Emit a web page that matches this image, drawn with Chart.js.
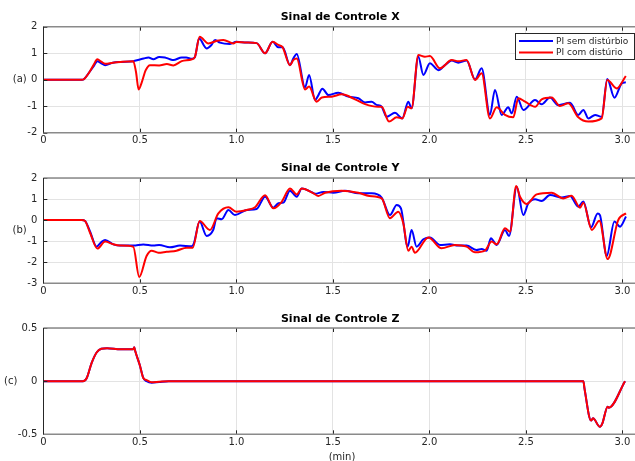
<!DOCTYPE html>
<html>
<head>
<meta charset="utf-8">
<script src="https://cdn.jsdelivr.net/npm/chart.js@4"></script>
<style>
  html, body { margin: 0; padding: 0; background: #fff; overflow: hidden; }
  #wrap { position: relative; width: 635px; height: 461px; overflow: hidden; }
  canvas { position: absolute; left: 0; }
</style>
</head>
<body>
<div id="wrap">
  <canvas id="cx" width="645" height="150" style="top:0px"></canvas>
  <canvas id="cy" width="645" height="150" style="top:150px"></canvas>
  <canvas id="cz" width="645" height="161" style="top:300px"></canvas>
</div>
<script>
// Series names and panel titles
const seriesNames = ['PI sem distúrbio', 'PI com distúrio'];
const panelTitles = ['Sinal de Controle X', 'Sinal de Controle Y', 'Sinal de Controle Z'];
const panelTags = ['(a)', '(b)', '(c)'];
const timeUnit = '(min)';

// Control signal X (time in min)
const tXSem = [0, 0.2, 0.21, 0.24, 0.26, 0.28, 0.3, 0.32, 0.36, 0.4, 0.466, 0.49, 0.52, 0.545, 0.57, 0.6, 0.63, 0.656, 0.674, 0.717, 0.74, 0.77, 0.785, 0.807, 0.846, 0.87, 0.89, 0.915, 0.967, 1.0, 1.054, 1.105, 1.149, 1.188, 1.218, 1.24, 1.278, 1.295, 1.313, 1.356, 1.377, 1.408, 1.421, 1.446, 1.477, 1.528, 1.58, 1.632, 1.667, 1.701, 1.727, 1.753, 1.779, 1.822, 1.86, 1.891, 1.908, 1.943, 1.969, 2.003, 2.047, 2.081, 2.116, 2.15, 2.193, 2.237, 2.271, 2.314, 2.34, 2.375, 2.409, 2.427, 2.453, 2.487, 2.548, 2.582, 2.625, 2.668, 2.729, 2.772, 2.798, 2.824, 2.859, 2.893, 2.922, 2.959, 2.997, 3.018];
const xSem  = [0, 0, 0.02, 0.3, 0.5, 0.7, 0.62, 0.55, 0.64, 0.67, 0.7, 0.74, 0.8, 0.84, 0.77, 0.86, 0.84, 0.77, 0.74, 0.84, 0.84, 0.79, 0.85, 1.55, 1.18, 1.3, 1.5, 1.4, 1.35, 1.43, 1.4, 1.38, 1.0, 1.43, 1.22, 1.22, 0.55, 0.8, 0.97, -0.29, 0.18, -0.77, -0.64, -0.34, -0.58, -0.49, -0.64, -0.7, -0.86, -0.83, -0.95, -1.02, -1.4, -1.25, -1.46, -0.83, -1.08, 0.87, 0.18, 0.62, 0.36, 0.55, 0.72, 0.64, 0.72, 0.01, 0.43, -1.33, -0.39, -1.33, -1.04, -1.27, -0.64, -1.14, -0.77, -0.93, -0.67, -0.96, -0.87, -1.33, -1.14, -1.46, -1.33, -1.4, 0.03, -0.68, -0.14, -0.1];
const tXCom = [0, 0.2, 0.21, 0.24, 0.26, 0.28, 0.3, 0.32, 0.36, 0.4, 0.466, 0.48, 0.494, 0.51, 0.53, 0.553, 0.6, 0.64, 0.674, 0.717, 0.77, 0.785, 0.81, 0.855, 0.9, 0.933, 0.985, 1.0, 1.054, 1.105, 1.149, 1.188, 1.218, 1.24, 1.278, 1.295, 1.313, 1.356, 1.377, 1.416, 1.443, 1.494, 1.546, 1.615, 1.667, 1.735, 1.753, 1.791, 1.831, 1.86, 1.888, 1.908, 1.943, 1.977, 2.003, 2.055, 2.116, 2.15, 2.193, 2.237, 2.271, 2.314, 2.349, 2.392, 2.435, 2.461, 2.496, 2.548, 2.582, 2.634, 2.677, 2.72, 2.772, 2.824, 2.893, 2.922, 2.971, 3.018];
const xCom  = [0, 0, 0.02, 0.3, 0.55, 0.77, 0.68, 0.6, 0.64, 0.67, 0.7, 0.3, -0.37, -0.1, 0.35, 0.55, 0.54, 0.59, 0.54, 0.7, 0.77, 0.85, 1.62, 1.37, 1.47, 1.5, 1.37, 1.42, 1.4, 1.38, 1.0, 1.43, 1.31, 1.22, 0.55, 0.74, 0.8, -0.37, -0.26, -0.83, -0.67, -0.64, -0.55, -0.74, -0.92, -1.02, -1.02, -1.58, -1.42, -1.46, -1.02, -1.08, 0.93, 0.87, 0.89, 0.43, 0.74, 0.7, 0.74, -0.01, 0.24, -1.46, -1.04, -1.33, -1.42, -0.7, -0.83, -1.02, -0.74, -0.67, -0.99, -0.89, -1.42, -1.58, -1.46, -0.01, -0.33, 0.14];

// Control signal Y
const tYSem = [0, 0.2, 0.215, 0.242, 0.276, 0.3, 0.32, 0.363, 0.397, 0.466, 0.518, 0.57, 0.6, 0.656, 0.708, 0.769, 0.78, 0.81, 0.846, 0.88, 0.898, 0.924, 0.959, 0.993, 1.054, 1.105, 1.149, 1.192, 1.218, 1.244, 1.278, 1.313, 1.339, 1.39, 1.408, 1.451, 1.503, 1.563, 1.632, 1.701, 1.753, 1.796, 1.831, 1.853, 1.888, 1.908, 1.934, 1.969, 2.003, 2.055, 2.107, 2.15, 2.193, 2.245, 2.271, 2.297, 2.319, 2.349, 2.392, 2.413, 2.453, 2.487, 2.513, 2.548, 2.582, 2.625, 2.686, 2.729, 2.772, 2.798, 2.838, 2.872, 2.884, 2.919, 2.959, 2.988, 3.019];
const ySem  = [0, 0, -0.03, -0.54, -1.26, -1.05, -0.94, -1.15, -1.21, -1.21, -1.16, -1.21, -1.18, -1.29, -1.21, -1.24, -1.1, -0.07, -0.75, -0.47, 0.09, 0.04, 0.48, 0.24, 0.48, 0.53, 1.11, 0.59, 0.8, 0.83, 1.4, 1.11, 1.5, 1.33, 1.25, 1.34, 1.3, 1.4, 1.27, 1.27, 1.07, 0.24, 0.72, 0.56, -1.26, -0.47, -1.26, -0.91, -0.82, -1.18, -1.15, -1.21, -1.21, -1.42, -1.37, -1.45, -0.86, -1.18, -0.47, -0.75, 1.59, 0.24, 0.8, 0.99, 0.91, 1.19, 1.07, 1.15, 0.64, 0.88, -0.34, 0.32, 0.24, -1.7, -0.07, -0.31, 0.17];
const tYCom = [0, 0.2, 0.215, 0.242, 0.28, 0.32, 0.363, 0.397, 0.466, 0.497, 0.535, 0.561, 0.596, 0.639, 0.69, 0.743, 0.774, 0.81, 0.863, 0.907, 0.959, 1.0, 1.054, 1.097, 1.149, 1.192, 1.235, 1.278, 1.313, 1.339, 1.4, 1.425, 1.46, 1.546, 1.632, 1.689, 1.753, 1.796, 1.839, 1.865, 1.891, 1.908, 1.925, 1.995, 2.063, 2.132, 2.193, 2.237, 2.288, 2.323, 2.349, 2.392, 2.418, 2.45, 2.47, 2.504, 2.556, 2.634, 2.694, 2.737, 2.781, 2.798, 2.842, 2.881, 2.924, 2.979, 3.019];
const yCom  = [0, 0, -0.03, -0.6, -1.35, -1.02, -1.15, -1.21, -1.26, -2.7, -1.7, -1.45, -1.55, -1.5, -1.45, -1.31, -1.31, -0.04, -0.47, 0.32, 0.61, 0.4, 0.48, 0.61, 1.18, 0.56, 0.87, 1.5, 1.22, 1.5, 1.27, 1.15, 1.3, 1.4, 1.3, 1.15, 1.03, 0.09, 0.4, -0.15, -1.45, -1.26, -1.55, -0.82, -1.34, -1.18, -1.26, -1.53, -1.45, -1.02, -1.15, -0.39, -0.55, 1.62, 1.11, 0.77, 1.22, 1.3, 1.03, 1.16, 0.59, 0.83, -0.47, -0.03, -1.85, 0.01, 0.32];

// Control signal Z
const tZSem = [0, 0.205, 0.225, 0.25, 0.276, 0.3, 0.33, 0.4, 0.466, 0.471, 0.475, 0.5, 0.518, 0.535, 0.561, 0.6, 0.65, 2.798, 2.804, 2.838, 2.848, 2.884, 2.896, 2.924, 2.93, 3.014];
const zSem  = [0, 0, 0.03, 0.17, 0.27, 0.305, 0.31, 0.3, 0.3, 0.32, 0.29, 0.15, 0.03, 0.0, -0.015, -0.008, 0, 0, -0.07, -0.37, -0.35, -0.43, -0.4, -0.24, -0.25, 0];
const tZCom = [0, 0.205, 0.225, 0.25, 0.276, 0.3, 0.33, 0.4, 0.466, 0.471, 0.475, 0.5, 0.518, 0.535, 0.561, 0.6, 0.65, 2.798, 2.804, 2.838, 2.848, 2.884, 2.896, 2.924, 2.93, 3.014];
const zCom  = [0, 0, 0.03, 0.17, 0.27, 0.305, 0.31, 0.3, 0.3, 0.32, 0.29, 0.15, 0.03, 0.01, -0.01, -0.005, 0, 0, -0.07, -0.37, -0.35, -0.43, -0.4, -0.24, -0.25, 0];

const pts = (ts, vs) => ts.map((t, i) => ({ x: t, y: vs[i] }));

Chart.defaults.font.family = '"DejaVu Sans", sans-serif';
Chart.defaults.font.size = 10;
Chart.defaults.color = '#262626';

// Box frame, inward ticks, title, side tag, axis unit and legend
const deco = {
  id: 'deco',
  afterDatasetsDraw(chart, args, o) {
    const { ctx, chartArea: a, scales } = chart;
    ctx.save();
    // inward tick marks
    ctx.strokeStyle = '#262626';
    ctx.lineWidth = 1;
    ctx.beginPath();
    scales.x.ticks.forEach(t => {
      const px = Math.round(scales.x.getPixelForValue(t.value)) + 0.5;
      ctx.moveTo(px, a.top); ctx.lineTo(px, a.top + 4);
      ctx.moveTo(px, a.bottom); ctx.lineTo(px, a.bottom - 4);
    });
    scales.y.ticks.forEach(t => {
      const py = Math.round(scales.y.getPixelForValue(t.value)) + 0.5;
      ctx.moveTo(a.left, py); ctx.lineTo(a.left + 4, py);
    });
    ctx.stroke();
    // top and bottom edges
    ctx.strokeStyle = '#8a8a8a';
    ctx.lineWidth = 1.6;
    ctx.beginPath();
    ctx.moveTo(a.left, a.top); ctx.lineTo(a.right + 5, a.top);
    ctx.moveTo(a.left, a.bottom); ctx.lineTo(a.right + 5, a.bottom);
    ctx.stroke();
    // left edge
    ctx.strokeStyle = '#262626';
    ctx.lineWidth = 1;
    ctx.beginPath();
    ctx.moveTo(Math.round(a.left) + 0.5, a.top); ctx.lineTo(Math.round(a.left) + 0.5, a.bottom);
    ctx.stroke();
    ctx.restore();
  },
  afterDraw(chart, args, o) {
    const { ctx, chartArea: a } = chart;
    ctx.save();
    ctx.textBaseline = 'middle';
    ctx.textAlign = 'center';
    // panel title
    ctx.fillStyle = '#000';
    ctx.font = 'bold 11px "DejaVu Sans", sans-serif';
    ctx.fillText(o.title, (a.left + 637) / 2, a.top - o.titleGap);
    // side tag
    ctx.fillStyle = '#262626';
    ctx.font = '10px "DejaVu Sans", sans-serif';
    ctx.fillText(o.tag, o.tagX, (a.top + a.bottom) / 2);
    // time unit under the last panel
    if (o.unit) ctx.fillText(o.unit, 342, a.bottom + 23);
    // legend
    if (o.legend) {
      const lx = 515.5, ly = 33.5, lw = 119, lh = 26;
      ctx.fillStyle = '#fff';
      ctx.fillRect(lx, ly, lw, lh);
      ctx.strokeStyle = '#262626';
      ctx.lineWidth = 1;
      ctx.strokeRect(lx, ly, lw, lh);
      ctx.textAlign = 'left';
      ctx.font = '9px "DejaVu Sans", sans-serif';
      chart.data.datasets.forEach((ds, i) => {
        const y = ly + 7.5 + i * 11.5;
        ctx.strokeStyle = ds.borderColor;
        ctx.lineWidth = 2;
        ctx.beginPath();
        ctx.moveTo(519, y); ctx.lineTo(553, y);
        ctx.stroke();
        ctx.fillStyle = '#262626';
        ctx.fillText(ds.label, 556, y + 0.5);
      });
    }
    ctx.restore();
  }
};

function panel(id, semPts, comPts, cfg) {
  return new Chart(document.getElementById(id), {
    type: 'line',
    data: {
      datasets: [
        { label: seriesNames[0], data: semPts, borderColor: '#0000ff', borderWidth: 2, pointRadius: 0, cubicInterpolationMode: 'monotone', order: 1 },
        { label: seriesNames[1], data: comPts, borderColor: '#ff0000', borderWidth: 2, pointRadius: 0, cubicInterpolationMode: 'monotone', order: 0 }
      ]
    },
    options: {
      responsive: false,
      animation: false,
      devicePixelRatio: 1,
      events: [],
      layout: { padding: { top: cfg.top, left: 0, right: 3.37, bottom: 0 } },
      plugins: {
        legend: { display: false },
        tooltip: { enabled: false },
        deco: cfg.deco
      },
      scales: {
        x: {
          type: 'linear', min: 0, max: 3.1,
          afterFit(s) { s.height = cfg.xHeight; },
          ticks: { stepSize: 0.5, includeBounds: false, maxRotation: 0, padding: 2 },
          grid: { color: '#e3e3e3', drawTicks: false },
          border: { display: false }
        },
        y: {
          min: cfg.yMin, max: cfg.yMax,
          afterFit(s) { s.width = 43.33; },
          ticks: { stepSize: cfg.yStep, padding: 6 },
          grid: { color: '#e3e3e3', drawTicks: false },
          border: { display: false }
        }
      }
    },
    plugins: [deco]
  });
}

panel('cx', pts(tXSem, xSem), pts(tXCom, xCom), {
  top: 26.7, xHeight: 17.3, yMin: -2, yMax: 2, yStep: 1,
  deco: { title: panelTitles[0], titleGap: 10, tag: panelTags[0], tagX: 19.7, legend: true }
});
panel('cy', pts(tYSem, ySem), pts(tYCom, yCom), {
  top: 28, xHeight: 16.7, yMin: -3, yMax: 2, yStep: 1,
  deco: { title: panelTitles[1], titleGap: 9.7, tag: panelTags[1], tagX: 19.7 }
});
panel('cz', pts(tZSem, zSem), pts(tZCom, zCom), {
  top: 28, xHeight: 26.7, yMin: -0.5, yMax: 0.5, yStep: 0.5,
  deco: { title: panelTitles[2], titleGap: 9, tag: panelTags[2], tagX: 10.7, unit: timeUnit }
});
</script>
</body>
</html>
